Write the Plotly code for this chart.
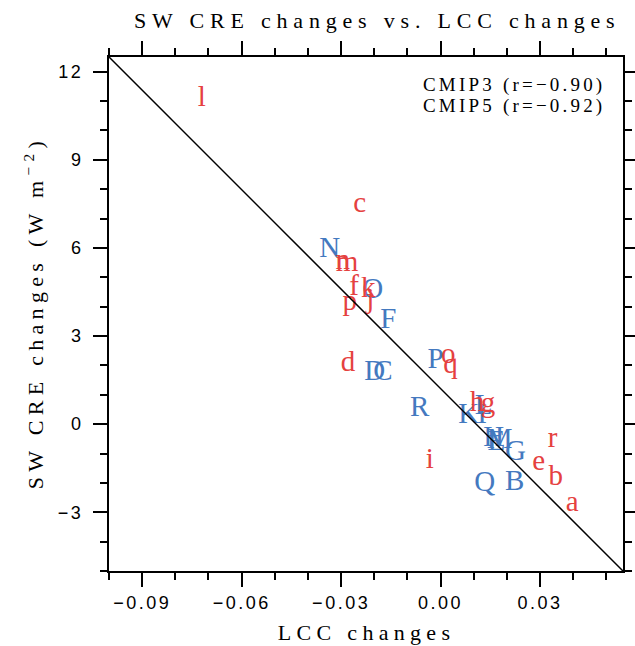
import plotly.graph_objects as go

# ---------------- data ----------------
cmip3_labels = list("abcdefghijklmnopqr")
cmip3_x = [0.0397, 0.0347, -0.0244, -0.0279, 0.0296, -0.0261, 0.0143, 0.0110, -0.0033,
           -0.0212, -0.0218, -0.0720, -0.0282, -0.0295, 0.0023, -0.0274, 0.0030, 0.0338]
cmip3_y = [-2.71, -1.81, 7.48, 2.04, -1.30, 4.64, 0.65, 0.68, -1.24,
           4.19, 4.58, 11.07, 5.47, 5.52, 2.32, 4.13, 1.98, -0.53]

cmip5_labels = ["B", "C", "D", "E", "F", "G", "H", "I", "K", "L", "M", "N", "O", "P", "Q", "R"]
cmip5_x = [0.0223, -0.0174, -0.0199, 0.0168, -0.0158, 0.0226, 0.0160, 0.0125, 0.0085, 0.0130,
           0.0178, -0.0334, -0.0205, -0.0015, 0.0133, -0.0063]
cmip5_y = [-1.98, 1.74, 1.74, -0.62, 3.51, -0.96, -0.50, 0.29, 0.29, 0.60,
           -0.56, 5.95, 4.55, 2.15, -2.03, 0.51]

line_x = [-0.10, 0.055]
line_y = [12.5, -5.0]

x_range = [-0.10, 0.055]
y_range = [-5.0, 12.5]
x_tickvals = [-0.09, -0.06, -0.03, 0.00, 0.03]
x_ticktext = ["\u22120.09", "\u22120.06", "\u22120.03", "0.00", "0.03"]
y_tickvals = [-3, 0, 3, 6, 9, 12]
y_ticktext = ["\u22123", "0", "3", "6", "9", "12"]

legend_lines = ["CMIP3 (r=\u22120.90)", "CMIP5 (r=\u22120.92)"]
title_text = "SW CRE changes vs. LCC changes"
xtitle_text = "LCC changes"
ytitle_text = "SW CRE changes (W m<sup>\u22122</sup>)"

RED = "#E5413F"
BLUE = "#4479BF"
SERIF = "Liberation Serif"
SANS = "Liberation Sans"

fig = go.Figure()
fig.add_trace(go.Scatter(x=cmip5_x, y=cmip5_y, text=cmip5_labels, mode="text",
                         textposition="middle center",
                         textfont=dict(family=SERIF, size=29, color=BLUE),
                         hoverinfo="skip", showlegend=False))
fig.add_trace(go.Scatter(x=cmip3_x, y=cmip3_y, text=cmip3_labels, mode="text",
                         textposition="middle center",
                         textfont=dict(family=SERIF, size=29, color=RED),
                         hoverinfo="skip", showlegend=False))
fig.add_trace(go.Scatter(x=line_x, y=line_y, mode="lines",
                         line=dict(color="black", width=1.5),
                         hoverinfo="skip", showlegend=False))

L, R, T, B = 109, 12, 57, 75
W, H = 635, 646
PW, PH = W - L - R, H - T - B


def px(x):
    return (x - L) / PW


def py(y):
    return (H - B - y) / PH


axis_common = dict(showline=True, linecolor="black", linewidth=2, mirror="allticks",
                   ticks="outside", ticklen=14, tickwidth=1.5, tickcolor="black",
                   showgrid=False, zeroline=False, automargin=False,
                   tickfont=dict(family=SANS, size=18, color="black"))

fig.update_xaxes(range=x_range, tickmode="array", tickvals=x_tickvals, ticktext=x_ticktext,
                 ticklabelstandoff=0,
                 minor=dict(tick0=0, dtick=0.01, ticks="outside", ticklen=7, tickwidth=1.5,
                            tickcolor="black", showgrid=False),
                 **axis_common)
fig.update_yaxes(range=y_range, tickmode="array", tickvals=y_tickvals, ticktext=y_ticktext,
                 ticklabelstandoff=6,
                 minor=dict(tick0=0, dtick=1, ticks="outside", ticklen=7, tickwidth=1.5,
                            tickcolor="black", showgrid=False),
                 **axis_common)

annotations = [
    dict(text=title_text, x=px(377), y=py(20), xref="paper", yref="paper",
         xanchor="center", yanchor="middle", showarrow=False,
         font=dict(family=SERIF, size=22, color="black")),
    dict(text=xtitle_text, x=px(366), y=py(632), xref="paper", yref="paper",
         xanchor="center", yanchor="middle", showarrow=False,
         font=dict(family=SERIF, size=22, color="black")),
    dict(text=ytitle_text, x=px(34), y=py(313), xref="paper", yref="paper",
         xanchor="center", yanchor="middle", showarrow=False, textangle=-90,
         font=dict(family=SERIF, size=22, color="black")),
    dict(text=legend_lines[0], x=px(514), y=py(85), xref="paper", yref="paper",
         xanchor="center", yanchor="middle", showarrow=False,
         font=dict(family=SERIF, size=19, color="black")),
    dict(text=legend_lines[1], x=px(514), y=py(106), xref="paper", yref="paper",
         xanchor="center", yanchor="middle", showarrow=False,
         font=dict(family=SERIF, size=19, color="black")),
]

fig.update_layout(width=W, height=H, margin=dict(l=L, r=R, t=T, b=B, autoexpand=False),
                  paper_bgcolor="white", plot_bgcolor="white",
                  annotations=annotations, showlegend=False)

post_js = """
var gd = document.getElementById('{plot_id}');
function spaceIt(){
  var spacing = {'%s': 5.8, '%s': 5.3, 'SW CRE changes (W m': 5.3, '%s': 3.2, '%s': 3.2};
  gd.querySelectorAll('.annotation-text').forEach(function(el){
    var t = el.textContent;
    for (var k in spacing){ if (t.indexOf(k) === 0){ el.style.letterSpacing = spacing[k] + 'px'; } }
  });
  gd.querySelectorAll('.xtick text, .ytick text').forEach(function(el){ el.style.letterSpacing = '2.5px'; });
}
spaceIt();
""" % (title_text, xtitle_text, legend_lines[0], legend_lines[1])

fig.write_html("out.html", post_script=post_js)
